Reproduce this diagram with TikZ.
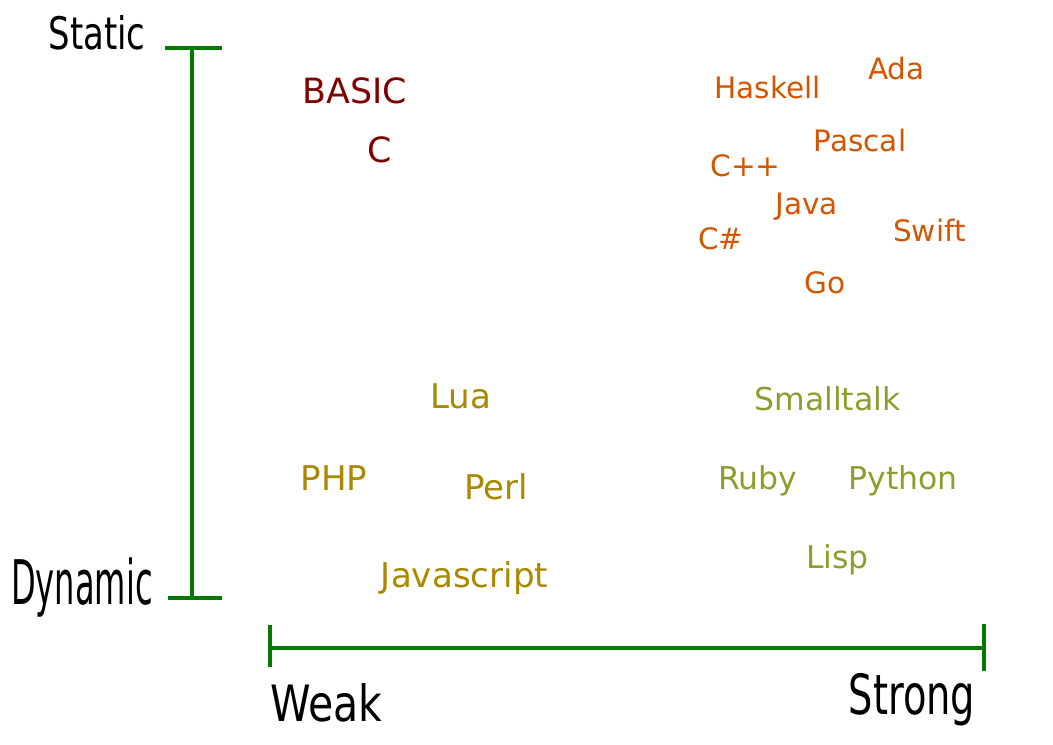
\documentclass[tikz,border=0pt]{standalone}
\usepackage{fontspec}
\setmainfont{DejaVu Sans}
\newfontfamily\axisfont{DejaVu Sans Condensed}
\definecolor{axisgreen}{HTML}{007A00}
\definecolor{weakstatic}{HTML}{800000}
\definecolor{strongstatic}{HTML}{D45500}
\definecolor{weakdynamic}{HTML}{AA8800}
\definecolor{strongdynamic}{HTML}{89A02C}
\begin{document}
\begin{tikzpicture}[
    axis/.style={draw=axisgreen, line width=1.85pt},
    axislabel/.style={inner sep=0pt, anchor=base},
    lang/.style={inner sep=0pt, anchor=base},
    ws/.style={lang, text=weakstatic, font=\fontsize{19.8pt}{20pt}\selectfont},
    ss/.style={lang, text=strongstatic, font=\fontsize{16.8pt}{17pt}\selectfont},
    wd/.style={lang, text=weakdynamic, font=\fontsize{19.4pt}{20pt}\selectfont},
    sd/.style={lang, text=strongdynamic, font=\fontsize{17.9pt}{18pt}\selectfont},
]
    \def\w{21.06}
    \def\h{14.9}
    \useasboundingbox (0, 0) rectangle (\w, \h);
    % vertical axis: static / dynamic
    \coordinate (statictop) at (3.84, 13.94);
    \coordinate (dynamicbottom) at (3.84, 2.94);
    \draw[axis] (statictop) -- (dynamicbottom);
    \draw[axis] (3.3, 13.94) -- (4.44, 13.94);
    \draw[axis] (3.36, 2.94) -- (4.44, 2.94);
    % horizontal axis: weak / strong
    \coordinate (weakend) at (5.4, 1.94);
    \coordinate (strongend) at (19.68, 1.94);
    \draw[axis] (weakend) -- (strongend);
    \draw[axis] (5.4, 2.4) -- (5.4, 1.56);
    \draw[axis] (19.68, 2.42) -- (19.68, 1.48);
    % axis labels
    \node[axislabel] (static) at (1.94, 13.9)
        {\axisfont\fontsize{25.5pt}{26pt}\selectfont\scalebox{0.84}[1]{Static}};
    \node[axislabel] (dynamic) at (1.64, 2.8)
        {\axisfont\fontsize{35pt}{36pt}\selectfont\scalebox{0.58}[1]{Dynamic}};
    \node[axislabel] (weak) at (6.53, 0.46)
        {\axisfont\fontsize{28.5pt}{30pt}\selectfont\scalebox{0.91}[1]{Weak}};
    \node[axislabel] (strong) at (18.24, 0.6)
        {\axisfont\fontsize{31.5pt}{32pt}\selectfont\scalebox{0.77}[1]{Strong}};
    % weak, static
    \node[ws] (basic) at (7.09, 12.82) {BASIC};
    \node[ws] (c) at (7.6, 11.64) {C};
    % strong, static
    \node[ss] (haskell) at (15.35, 12.93) {Haskell};
    \node[ss] (ada) at (17.93, 13.31) {Ada};
    \node[ss] (pascal) at (17.2, 11.87) {Pascal};
    \node[ss] (cpp) at (14.91, 11.36) {C++};
    \node[ss] (java) at (16.13, 10.61) {Java};
    \node[ss] (csharp) at (14.42, 9.91) {C\#};
    \node[ss] (swift) at (18.59, 10.06) {Swift};
    \node[ss] (go) at (16.5, 9.03) {Go};
    % weak, dynamic
    \node[wd] (lua) at (9.22, 6.73) {Lua};
    \node[wd] (php) at (6.68, 5.08) {PHP};
    \node[wd] (perl) at (9.92, 4.9) {Perl};
    \node[wd] (javascript) at (9.29, 3.15) {Javascript};
    % strong, dynamic
    \node[sd] (smalltalk) at (16.55, 6.68) {Smalltalk};
    \node[sd] (ruby) at (15.15, 5.11) {Ruby};
    \node[sd] (python) at (18.06, 5.1) {Python};
    \node[sd] (lisp) at (16.75, 3.53) {Lisp};
\end{tikzpicture}
\end{document}
